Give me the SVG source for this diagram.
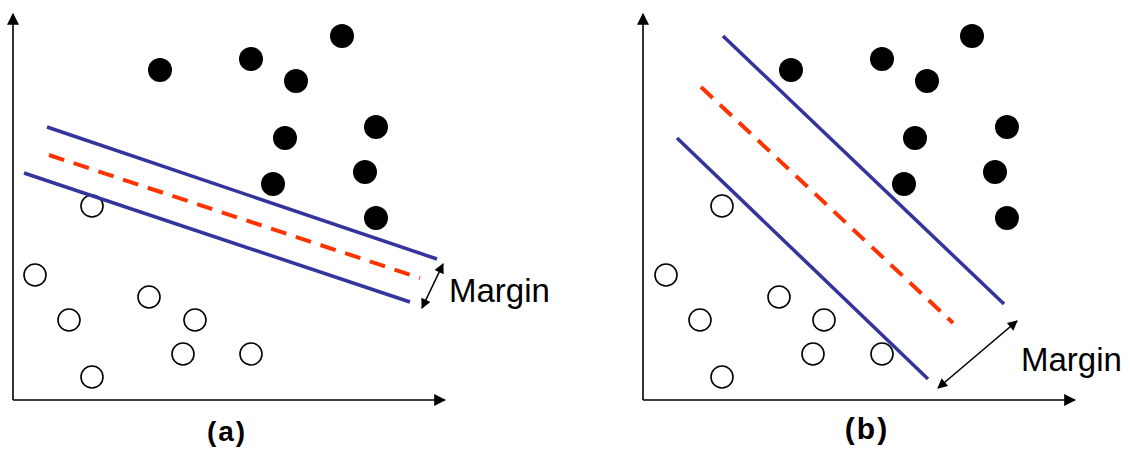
<svg xmlns="http://www.w3.org/2000/svg" width="1130" height="452" viewBox="0 0 1130 452">
<style>
.axis{stroke:#000;stroke-width:1.6;fill:none}
.blue{stroke:#34349c;stroke-width:3.5;fill:none}
.red{stroke:#ff3300;stroke-width:4;stroke-dasharray:16 10;fill:none}
.pos{fill:#000}
.neg{fill:#fff;stroke:#000;stroke-width:1.6}
.marg{stroke:#000;stroke-width:1.6;fill:none}
.lbl{font-family:"Liberation Sans",Arial,sans-serif;font-size:33px;fill:#000}
.cap{font-family:"Liberation Sans",Arial,sans-serif;font-weight:bold;fill:#000;letter-spacing:2px}
</style>
<defs>
<marker id="ah" viewBox="0 0 10 10" refX="9" refY="5" markerWidth="12" markerHeight="12" markerUnits="userSpaceOnUse" orient="auto"><path d="M0,0 L10,5 L0,10 z" fill="#000"/></marker>
<marker id="sh" viewBox="0 0 10 10" refX="9" refY="5" markerWidth="12" markerHeight="10" markerUnits="userSpaceOnUse" orient="auto-start-reverse"><path d="M0,0 L10,5 L0,10 z" fill="#000"/></marker>
</defs>
<rect width="1130" height="452" fill="#fff"/>
<g id="panel-a">
<g id="axes-a">
<line class="axis" x1="13" y1="400" x2="13" y2="14" marker-end="url(#ah)"/>
<line class="axis" x1="13" y1="400" x2="445" y2="400" marker-end="url(#ah)"/>
</g>
<g id="pos-a">
<circle class="pos" cx="160" cy="70" r="12"/>
<circle class="pos" cx="251" cy="59" r="12"/>
<circle class="pos" cx="296" cy="81" r="12"/>
<circle class="pos" cx="342" cy="36" r="12"/>
<circle class="pos" cx="285" cy="138" r="12"/>
<circle class="pos" cx="376" cy="127" r="12"/>
<circle class="pos" cx="273" cy="184" r="12"/>
<circle class="pos" cx="365" cy="172" r="12"/>
<circle class="pos" cx="376" cy="218" r="12"/>
</g>
<g id="neg-a">
<circle class="neg" cx="92" cy="206" r="11"/>
<circle class="neg" cx="35" cy="275" r="11"/>
<circle class="neg" cx="149" cy="297" r="11"/>
<circle class="neg" cx="69" cy="320" r="11"/>
<circle class="neg" cx="195" cy="320" r="11"/>
<circle class="neg" cx="183" cy="354" r="11"/>
<circle class="neg" cx="251" cy="354" r="11"/>
<circle class="neg" cx="92" cy="377" r="11"/>
</g>
<g id="lines-a">
<line class="blue" x1="47" y1="127" x2="437" y2="259"/>
<line class="blue" x1="24" y1="173" x2="410" y2="302"/>
<line class="red" x1="49" y1="155" x2="420" y2="278"/>
</g>
<g id="margin-a">
<line class="marg" x1="443" y1="264" x2="422" y2="308" marker-start="url(#sh)" marker-end="url(#sh)"/>
<text class="lbl" x="449" y="302">Margin</text>
</g>
<text class="cap" x="227" y="441" font-size="28" text-anchor="middle">(a)</text>
</g>
<g id="panel-b">
<g id="axes-b">
<line class="axis" x1="643" y1="400" x2="643" y2="14" marker-end="url(#ah)"/>
<line class="axis" x1="643" y1="400" x2="1075" y2="400" marker-end="url(#ah)"/>
</g>
<g id="pos-b">
<circle class="pos" cx="791" cy="70" r="12"/>
<circle class="pos" cx="882" cy="59" r="12"/>
<circle class="pos" cx="927" cy="81" r="12"/>
<circle class="pos" cx="972" cy="36" r="12"/>
<circle class="pos" cx="915" cy="138" r="12"/>
<circle class="pos" cx="1007" cy="127" r="12"/>
<circle class="pos" cx="904" cy="184" r="12"/>
<circle class="pos" cx="995" cy="172" r="12"/>
<circle class="pos" cx="1007" cy="218" r="12"/>
</g>
<g id="neg-b">
<circle class="neg" cx="722" cy="206" r="11"/>
<circle class="neg" cx="666" cy="275" r="11"/>
<circle class="neg" cx="779" cy="297" r="11"/>
<circle class="neg" cx="700" cy="320" r="11"/>
<circle class="neg" cx="824" cy="320" r="11"/>
<circle class="neg" cx="813" cy="354" r="11"/>
<circle class="neg" cx="882" cy="354" r="11"/>
<circle class="neg" cx="722" cy="377" r="11"/>
</g>
<g id="lines-b">
<line class="blue" x1="723" y1="36" x2="1004" y2="304"/>
<line class="blue" x1="677" y1="138" x2="928" y2="379"/>
<line class="red" x1="701" y1="87" x2="953" y2="323"/>
</g>
<g id="margin-b">
<line class="marg" x1="1017" y1="321" x2="938" y2="388" marker-start="url(#sh)" marker-end="url(#sh)"/>
<text class="lbl" x="1021" y="371">Margin</text>
</g>
<text class="cap" x="867" y="439" font-size="30" text-anchor="middle">(b)</text>
</g>
</svg>
